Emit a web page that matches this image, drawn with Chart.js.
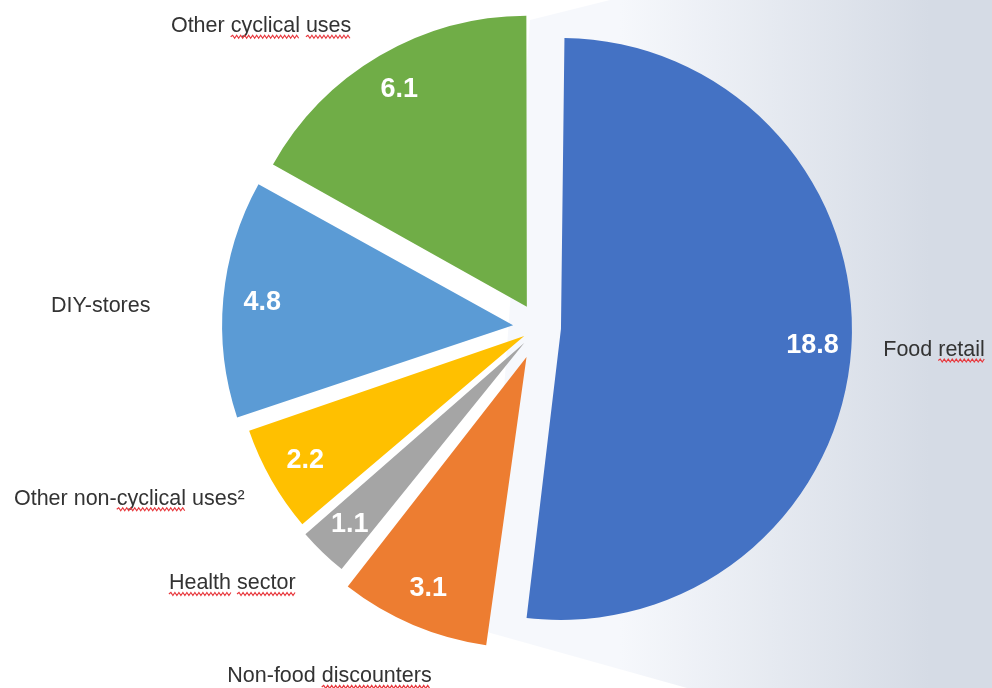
<!DOCTYPE html>
<html>
<head>
<meta charset="utf-8">
<script src="https://cdn.jsdelivr.net/npm/chart.js@4.4.0/dist/chart.umd.min.js"></script>
<style>
  html, body { margin: 0; padding: 0; background: #fff; }
  #wrap { width: 992px; height: 688px; }
</style>
</head>
<body>
<div id="wrap"><canvas id="pie" width="992" height="688"></canvas></div>
<script>
const categories = ["Food retail", "Non-food discounters", "Health sector", "Other non-cyclical uses²", "DIY-stores", "Other cyclical uses"];
const values = [18.8, 3.1, 1.1, 2.2, 4.8, 6.1];
const sliceColors = ["#4472C4", "#ED7D31", "#A5A5A5", "#FFC000", "#5B9BD5", "#70AD47"];
// pull-out of each slice (Chart.js moves the arc by offset / 4)
const explode = [88, 128, 84, 68, 104, 96];
// words that carry the red spell-check squiggle
const flagged = [["retail"], ["discounters"], ["Health", "sector"], ["cyclical"], [], ["cyclical", "uses"]];
// small shifts for the outside names
const labelNudge = [[0, 0], [31, 22], [-5, 8], [1, 3], [-41, 10], [-12, -2]];

const PIE_RADIUS = 291;
const LABEL_FONT = "21.5px 'Liberation Sans', Arial, sans-serif";
const VALUE_FONT = "bold 27px 'Liberation Sans', Arial, sans-serif";

const panelBackground = {
  id: "panelBackground",
  beforeDraw(chart) {
    const ctx = chart.ctx;
    const w = chart.width, h = chart.height;
    ctx.save();
    ctx.fillStyle = "#fff";
    ctx.fillRect(0, 0, w, h);
    const grad = ctx.createLinearGradient(620, 0, 930, 0);
    grad.addColorStop(0, "#F6F8FC");
    grad.addColorStop(1, "#D5DBE5");
    ctx.fillStyle = grad;
    ctx.beginPath();
    ctx.moveTo(530, 20);
    ctx.lineTo(610, 0);
    ctx.lineTo(w, 0);
    ctx.lineTo(w, h);
    ctx.lineTo(687, h);
    ctx.lineTo(487, 632);
    ctx.closePath();
    ctx.fill();
    ctx.restore();
  }
};

// offset also grows the arc radius, take that back so all slices stay equal
const evenRadius = {
  id: "evenRadius",
  afterDatasetUpdate(chart, args) {
    args.meta.data.forEach((arc, i) => {
      const shift = explode[i] / 4;
      const fix = 1 - Math.sin(Math.min(Math.PI, arc.circumference));
      arc.outerRadius = PIE_RADIUS - shift * fix;
    });
  }
};

function squiggle(ctx, x0, x1, y) {
  ctx.beginPath();
  let up = true;
  ctx.moveTo(x0, y);
  for (let x = x0 + 2; x <= x1; x += 2) {
    ctx.lineTo(x, up ? y - 1.5 : y + 1.5);
    up = !up;
  }
  ctx.stroke();
}

const sliceLabels = {
  id: "sliceLabels",
  afterDatasetsDraw(chart) {
    const ctx = chart.ctx;
    const arcs = chart.getDatasetMeta(0).data;
    ctx.save();
    arcs.forEach((arc, i) => {
      const mid = (arc.startAngle + arc.endAngle) / 2;
      const dx = Math.cos(mid), dy = Math.sin(mid);
      const cx = arc.x + dx * explode[i] / 4;
      const cy = arc.y + dy * explode[i] / 4;

      // value just inside the rim
      const rIn = PIE_RADIUS - 39;
      ctx.font = VALUE_FONT;
      ctx.fillStyle = "#fff";
      ctx.textAlign = "center";
      ctx.textBaseline = "middle";
      ctx.fillText(values[i].toFixed(1), cx + dx * rIn, cy + dy * rIn);

      // category name outside
      const rOut = PIE_RADIUS + 32;
      const ax = cx + dx * rOut + labelNudge[i][0];
      const ay = cy + dy * rOut + labelNudge[i][1];
      const text = categories[i];
      ctx.font = LABEL_FONT;
      ctx.fillStyle = "#333333";
      ctx.textAlign = dx > 0 ? "left" : "right";
      ctx.fillText(text, ax, ay);

      const left = dx > 0 ? ax : ax - ctx.measureText(text).width;
      ctx.strokeStyle = "#E8383D";
      ctx.lineWidth = 1.2;
      flagged[i].forEach((word) => {
        const at = text.indexOf(word);
        const x0 = left + ctx.measureText(text.slice(0, at)).width;
        const x1 = x0 + ctx.measureText(word).width;
        squiggle(ctx, x0, x1, ay + 10.5);
      });
    });
    ctx.restore();
  }
};

new Chart(document.getElementById("pie"), {
  type: "pie",
  data: {
    labels: categories,
    datasets: [
      {
        data: values,
        backgroundColor: sliceColors,
        borderWidth: 0,
        offset: explode,
        radius: PIE_RADIUS,
      },
    ],
  },
  options: {
    responsive: false,
    animation: false,
    layout: {
      padding: { left: 86, right: 0, top: 0, bottom: 33 },
    },
    plugins: {
      legend: { display: false },
      tooltip: { enabled: false },
    },
  },
  plugins: [panelBackground, evenRadius, sliceLabels],
});
</script>
</body>
</html>
